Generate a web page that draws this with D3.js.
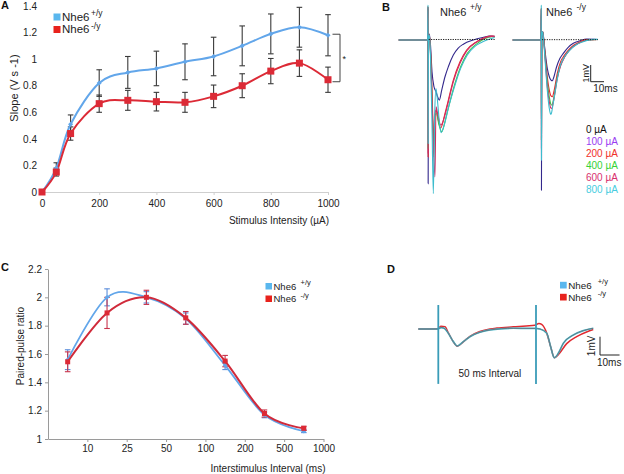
<!DOCTYPE html>
<html><head><meta charset="utf-8">
<script src="https://cdn.jsdelivr.net/npm/d3@7"></script>
<style>
body{margin:0;background:#fff;}
svg{display:block;font-family:"Liberation Sans",Arial,Helvetica,sans-serif;}
</style></head><body>
<svg id="c" width="624" height="474"></svg>
<script>
// ---------- Panel A : input-output ----------
const intensities = [0,50,100,200,300,400,500,600,700,800,900,1000];
const slopeWT    = [0,0.18,0.51,0.82,0.90,0.93,0.98,1.02,1.10,1.19,1.24,1.18];
const slopeWTErr = [0,0.04,0.07,0.10,0.12,0.13,0.135,0.145,0.15,0.15,0.15,0.155];
const slopeKO    = [0,0.15,0.44,0.665,0.69,0.68,0.675,0.72,0.80,0.91,0.97,0.845];
const slopeKOErr = [0,0.03,0.05,0.065,0.075,0.07,0.075,0.085,0.09,0.095,0.10,0.095];
const slopeXTicks = [0,200,400,600,800,1000];
const slopeYTicks = [0,0.2,0.4,0.6,0.8,1,1.2,1.4];

// ---------- Panel C : paired-pulse ----------
const ppIntervalLabels = ["10","25","50","100","200","500","1000"];
const ppWT    = [1.56,2.0,2.0,1.85,1.52,1.17,1.055];
const ppWTErr = [0.07,0.06,0.04,0.04,0.03,0.02,0.01];
const ppKO    = [1.545,1.89,2.0,1.855,1.55,1.18,1.075];
const ppKOErr = [0.07,0.11,0.05,0.045,0.04,0.025,0.015];
const ppYTicks = [1,1.2,1.4,1.6,1.8,2,2.2];

// ---------- Panel B : fEPSP traces [ms, mV] ----------
const stimLabels = ["0 µA","100 µA","200 µA","400 µA","600 µA","800 µA"];
const wt0   = [[0.5,0.03],[50,0.03]];
const wt100 = [[-22,0],[-0.3,0],[0,1.9],[0.12,-8.6],[0.35,0.1],[1.0,0.35],[1.8,-0.2],[3.0,-1.9],[4.5,-2.8],[6.0,-3.1],[7.2,-3.4],[8.5,-3.6],[10.3,-3.0],[12.75,-2.2],[15.25,-1.6],[19,-0.9],[22.5,-0.5],[26.5,-0.25],[34,0.0],[41,0.15],[46.5,0.24],[50,0.22]];
const wt200 = [[-22,0],[-0.3,0],[0,2.0],[0.12,-7.0],[0.35,0.1],[1.0,0.3],[1.8,-0.5],[3.2,-3.5],[4.2,-6.2],[5.0,-4.6],[6.0,-4.2],[7.5,-4.7],[9.5,-5.27],[12.75,-4.4],[15.25,-3.6],[19,-2.4],[24,-1.3],[29,-0.6],[36.5,-0.1],[47.8,0.24],[50,0.22]];
const wt400 = [[-22,0],[-0.3,0],[0,2.0],[0.12,-6.5],[0.35,0.1],[1.0,0.3],[1.8,-0.6],[3.2,-4.0],[4.3,-7.0],[5.2,-4.5],[6.3,-4.4],[8,-5.0],[10.3,-5.49],[13,-4.8],[15.5,-4.0],[19.5,-2.8],[24.5,-1.6],[29.5,-0.8],[37,-0.2],[48,0.2],[50,0.18]];
const wt600 = [[-22,0],[-0.3,0],[0,2.0],[0.12,-6.8],[0.35,0.1],[1.0,0.3],[1.8,-0.7],[3.4,-4.5],[5.2,-8.2],[6.0,-4.0],[7.2,-4.4],[9.6,-5.1],[12.75,-4.5],[15.25,-3.7],[19,-2.5],[24,-1.4],[29,-0.65],[36.5,-0.12],[48,0.22],[50,0.2]];
const wt800 = [[-22,0],[-0.3,0],[0,2.1],[0.12,-6.2],[0.35,0.1],[1.0,0.3],[1.8,-0.8],[3.0,-5.0],[4.0,-9.2],[5.0,-4.5],[6.0,-2.9],[7.3,-3.8],[8.5,-4.9],[9.8,-5.55],[12.5,-5.0],[15.2,-4.1],[19.5,-2.9],[24.5,-1.7],[29.5,-0.9],[35,-0.4],[40,-0.15],[50,0.15]];
const ko0   = [[0.5,0.02],[42.5,0.02]];
const ko100 = [[-21.5,0],[-0.3,0],[0,1.8],[0.12,-9.0],[0.35,0.2],[1.0,0.5],[1.8,0.1],[3,-0.8],[4.5,-1.7],[6,-2.2],[7.3,-2.4],[8.25,-2.44],[9.5,-2.2],[11.5,-1.6],[14,-1.1],[16.5,-0.8],[20,-0.45],[24,-0.2],[29,-0.05],[34,0.05],[42.5,0.03]];
const ko200 = [[-21.5,0],[-0.3,0],[0,1.9],[0.12,-6.0],[0.35,0.2],[1.0,0.5],[1.8,0.05],[3,-1.0],[4.5,-2.2],[6,-3.0],[7.3,-3.35],[8.25,-3.4],[9.7,-3.0],[12,-2.0],[14.5,-1.3],[17,-0.95],[21,-0.55],[24.5,-0.3],[29,-0.1],[34,0.02],[42.5,0.03]];
const ko400 = [[-21.5,0],[-0.3,0],[0,1.9],[0.12,-6.0],[0.35,0.2],[1.0,0.5],[1.8,0.0],[3,-1.1],[4.5,-2.5],[6,-3.4],[7.2,-3.85],[8,-3.9],[9.5,-3.4],[12,-2.2],[14.5,-1.5],[17.5,-1.0],[21,-0.6],[25,-0.32],[30,-0.12],[35,0.0],[42.5,0.03]];
const ko600 = [[-21.5,0],[-0.3,0],[0,1.9],[0.12,-6.5],[0.35,0.2],[1.0,0.5],[1.8,0.0],[3,-1.2],[4.5,-2.8],[6,-3.7],[7,-4.05],[7.8,-4.1],[9.3,-3.6],[12,-2.3],[14.5,-1.55],[17.5,-1.02],[21,-0.62],[25,-0.33],[30,-0.12],[35,0.0],[42.5,0.03]];
const ko800 = [[-21.5,0],[-0.3,0],[0,2.1],[0.12,-7.2],[0.35,0.2],[1.0,0.5],[1.8,-0.1],[3,-1.4],[4.5,-3.0],[6,-4.1],[6.8,-4.4],[7.3,-4.45],[8.5,-4.0],[10.2,-3.2],[12,-2.35],[14,-1.6],[17.5,-1.0],[21.5,-0.6],[26,-0.3],[31.5,-0.1],[39,0.04],[42.5,0.04]];

// ---------- Panel D : paired-pulse traces [ms, mV] ----------
const ppArtifactTimes = [0,50];
const ppTraceWT = [[-10.2,0],[-0.3,0],[1.4,0.08],[2.9,0.05],[5.1,-0.23],[7.7,-0.69],[9.7,-0.93],[12.8,-0.69],[16.2,-0.42],[21.3,-0.18],[26.5,-0.05],[38.4,0.04],[49.6,0.03],[52,0],[55.5,-0.23],[57.5,-0.97],[59.4,-1.57],[61.4,-1.33],[64,-0.78],[69.1,-0.33],[74.2,-0.09],[79.3,0.04]];
const ppTraceKO = [[-10.2,0],[-0.3,0.02],[1.4,0.15],[3.4,0.13],[5.1,-0.2],[7.7,-0.7],[9.7,-0.94],[12.8,-0.7],[16.2,-0.4],[21.3,-0.14],[26.5,0.0],[30,0.05],[38.4,0.12],[45,0.17],[49.4,0.2],[51.5,0.3],[52.9,0.25],[55.5,-0.23],[57.5,-0.97],[59.4,-1.57],[61.4,-1.4],[65.7,-0.8],[70.8,-0.42],[76.8,-0.12],[79.3,-0.03]];

// ================= drawing =================
const svg = d3.select("#c");
const BLUE = "#62a6ea", BLUE_LEG = "#5ab7ee", RED = "#dc2a36", RED_LEG = "#e8221c";

function txt(x, y, s, size, opts = {}) {
  const t = svg.append("text").attr("x", x).attr("y", y).text(s)
    .attr("font-size", size).attr("fill", opts.fill || "#222");
  if (opts.anchor) t.attr("text-anchor", opts.anchor);
  if (opts.weight) t.attr("font-weight", opts.weight);
  if (opts.rotate) t.attr("transform", `rotate(-90,${x},${y})`);
  return t;
}
function legendEntry(x, y, sq, color, sup, fs, sfs, supDx, supDy) {
  svg.append("rect").attr("x", x).attr("y", y - sq).attr("width", sq).attr("height", sq).attr("fill", color);
  txt(x + sq + 1.5, y, "Nhe6", fs);
  txt(x + sq + 1.5 + supDx, y - supDy, sup, sfs);
}

// Panel letters
txt(1, 9, "A", 11, {weight: "bold", fill: "#111"});
txt(382, 10.5, "B", 11, {weight: "bold", fill: "#111"});
txt(1, 271, "C", 11, {weight: "bold", fill: "#111"});
txt(387, 273, "D", 11, {weight: "bold", fill: "#111"});

// ---------- A ----------
const xA = d3.scaleLinear().domain([0, 1000]).range([42, 328]);
const yA = d3.scaleLinear().domain([0, 1.4]).range([192, 6]);
const gxA = svg.append("g").attr("transform", "translate(0,192)")
  .call(d3.axisBottom(xA).tickValues(slopeXTicks).tickSize(3).tickSizeOuter(0).tickPadding(4.5).tickFormat(d3.format("d")));
gxA.select(".domain").attr("stroke", "#cfcfcf");
gxA.selectAll(".tick line").attr("stroke", "#cfcfcf");
gxA.selectAll("text").attr("font-size", 10).attr("fill", "#222").attr("font-family", null);
const gyA = svg.append("g").attr("transform", "translate(42,0)")
  .call(d3.axisLeft(yA).tickValues(slopeYTicks).tickSize(0).tickPadding(5).tickFormat(d3.format("~g")));
gyA.select(".domain").remove();
gyA.selectAll("text").attr("font-size", 10).attr("fill", "#222").attr("font-family", null);
txt(279, 223.5, "Stimulus Intensity (µA)", 10, {anchor: "middle"});
txt(18, 88, "Slope (V s -1)", 11, {anchor: "middle", rotate: true});

function errBars(g, xs, ys, xv, yv, ev, color, cap, w) {
  xv.forEach((xx, i) => {
    if (!ev[i]) return;
    const X = xs(xx), y1 = ys(yv[i] + ev[i]), y2 = ys(yv[i] - ev[i]);
    g.append("line").attr("x1", X).attr("x2", X).attr("y1", y1).attr("y2", y2).attr("stroke", color).attr("stroke-width", w);
    g.append("line").attr("x1", X - cap).attr("x2", X + cap).attr("y1", y1).attr("y2", y1).attr("stroke", color).attr("stroke-width", w);
    g.append("line").attr("x1", X - cap).attr("x2", X + cap).attr("y1", y2).attr("y2", y2).attr("stroke", color).attr("stroke-width", w);
  });
}
const gA = svg.append("g");
errBars(gA, xA, yA, intensities, slopeWT, slopeWTErr, "#3a3a3a", 2.8, 1.1);
errBars(gA, xA, yA, intensities, slopeKO, slopeKOErr, "#3a3a3a", 2.8, 1.1);
const lineA = vals => d3.line().x((d, i) => xA(intensities[i])).y(d => yA(d)).curve(d3.curveCatmullRom.alpha(0))(vals);
gA.append("path").attr("d", lineA(slopeWT)).attr("fill", "none").attr("stroke", BLUE).attr("stroke-width", 2);
gA.append("path").attr("d", lineA(slopeKO)).attr("fill", "none").attr("stroke", RED).attr("stroke-width", 2);
gA.selectAll(".dwt").data(slopeWT).enter().append("rect")
  .attr("width", 3.6).attr("height", 3.6).attr("x", -1.8).attr("y", -1.8)
  .attr("transform", (d, i) => `translate(${xA(intensities[i])},${yA(d)}) rotate(45)`).attr("fill", BLUE);
gA.selectAll(".dko").data(slopeKO).enter().append("rect")
  .attr("width", 7).attr("height", 7)
  .attr("x", (d, i) => xA(intensities[i]) - 3.5).attr("y", d => yA(d) - 3.5).attr("fill", RED);
// significance bracket
{
  const last = intensities.length - 1;
  const bx0 = xA(intensities[last]) + 4.5, bx1 = xA(intensities[last]) + 12;
  const by0 = yA(slopeWT[last]) - 1, by1 = yA(slopeKO[last]) + 2;
  svg.append("path").attr("d", `M${bx0},${by0}H${bx1}V${by1}H${bx0}`).attr("fill", "none").attr("stroke", "#444").attr("stroke-width", 1);
  txt(bx1 + 2.5, (by0 + by1) / 2 + 4, "*", 9);
}
legendEntry(53.5, 20.5, 7, BLUE_LEG, "+/y", 11.5, 8.5, 29, 4.5);
legendEntry(53.5, 33, 7, RED_LEG, "-/y", 11.5, 8.5, 29, 4);

// ---------- C ----------
const xC = d3.scaleLinear().domain([0, 7]).range([48, 323.5]);
const yC = d3.scaleLinear().domain([1, 2.2]).range([439, 269]);
const gxC = svg.append("g").attr("transform", "translate(0,439)")
  .call(d3.axisBottom(xC).tickValues(d3.range(1, ppIntervalLabels.length + 1)).tickSize(3).tickSizeOuter(0).tickPadding(3)
    .tickFormat(i => ppIntervalLabels[i - 1]));
gxC.select(".domain").attr("stroke", "#9a9a9a");
gxC.selectAll(".tick line").attr("stroke", "#9a9a9a");
gxC.selectAll("text").attr("font-size", 10).attr("fill", "#222").attr("font-family", null);
const gyC = svg.append("g").attr("transform", "translate(48,0)")
  .call(d3.axisLeft(yC).tickValues(ppYTicks).tickSize(3).tickSizeOuter(0).tickPadding(3).tickFormat(d3.format("~g")));
gyC.select(".domain").attr("stroke", "#9a9a9a");
gyC.selectAll(".tick line").attr("stroke", "#9a9a9a");
gyC.selectAll("text").attr("font-size", 10).attr("fill", "#222").attr("font-family", null);
txt(268, 472, "Interstimulus Interval (ms)", 10, {anchor: "middle"});
txt(24, 346, "Paired-pulse ratio", 10, {anchor: "middle", rotate: true});

const ppX = ppWT.map((d, i) => i + 0.5);
const gC = svg.append("g");
errBars(gC, xC, yC, ppX, ppWT, ppWTErr, "#5a8ddb", 2.8, 1.1);
errBars(gC, xC, yC, ppX, ppKO, ppKOErr, "#c8344c", 2.8, 1.1);
const lineC = vals => d3.line().x((d, i) => xC(ppX[i])).y(d => yC(d)).curve(d3.curveCatmullRom.alpha(0))(vals);
gC.append("path").attr("d", lineC(ppWT)).attr("fill", "none").attr("stroke", BLUE).attr("stroke-width", 1.8);
gC.selectAll(".cwt").data(ppWT).enter().append("rect")
  .attr("width", 3.4).attr("height", 3.4).attr("x", -1.7).attr("y", -1.7)
  .attr("transform", (d, i) => `translate(${xC(ppX[i])},${yC(d)}) rotate(45)`).attr("fill", BLUE);
gC.append("path").attr("d", lineC(ppKO)).attr("fill", "none").attr("stroke", "#d02a3a").attr("stroke-width", 2);
gC.selectAll(".cko").data(ppKO).enter().append("rect")
  .attr("width", 5).attr("height", 5)
  .attr("x", (d, i) => xC(ppX[i]) - 2.5).attr("y", d => yC(d) - 2.5).attr("fill", RED);
legendEntry(265.5, 289.5, 6.5, BLUE_LEG, "+/y", 9.5, 7.5, 27, 4.5);
legendEntry(265.5, 302, 6.5, RED_LEG, "-/y", 9.5, 7.5, 27, 4.5);

// ---------- B ----------
const traceColors = ["#1a1a1a", "#33288c", "#e8262e", "#3cc44a", "#cf2d66", "#3cbccd"];
const stimTextColors = ["#111111", "#9a3cf2", "#f0302a", "#36d236", "#d8306e", "#48cde0"];
const yB = d3.scaleLinear().domain([0, 1]).range([40, 23.3]);
const xBL = d3.scaleLinear().domain([0, 10]).range([428, 441.33]);
const xBR = d3.scaleLinear().domain([0, 10]).range([541.3, 554.63]);
function drawTraces(traces, xs, ys) {
  const ln = d3.line().x(d => xs(d[0])).y(d => ys(d[1])).curve(d3.curveMonotoneX);
  traces.forEach((tr, i) => {
    if (i === 0) return;
    svg.append("path").attr("d", ln(tr)).attr("fill", "none").attr("stroke", traceColors[i]).attr("stroke-width", 1.1);
  });
  svg.append("path").attr("d", ln(traces[0])).attr("fill", "none").attr("stroke", traceColors[0])
    .attr("stroke-width", 1).attr("stroke-dasharray", "1.2,1.2");
}
drawTraces([wt0, wt100, wt200, wt400, wt600, wt800], xBL, yB);
drawTraces([ko0, ko100, ko200, ko400, ko600, ko800], xBR, yB);
txt(440, 15.5, "Nhe6", 11);
txt(470, 10, "+/y", 8.5);
txt(546, 15.5, "Nhe6", 11);
txt(576.5, 10, "-/y", 8.5);
// scale bar B
{
  const sx = 590.7, sy = 81.7;
  const h = yB(0) - yB(1), w = xBL(10) - xBL(0);
  svg.append("path").attr("d", `M${sx},${sy - h}V${sy}H${sx + w}`).attr("fill", "none").attr("stroke", "#222").attr("stroke-width", 1);
  txt(sx - 1.5, sy - h / 2, "1mV", 9, {anchor: "middle", rotate: true});
  txt(sx + 2.5, sy + 10.5, "10ms", 10);
}
stimLabels.forEach((s, i) => txt(586, 132.5 + 12 * i, s, 10, {fill: stimTextColors[i]}));

// ---------- D ----------
const xD = d3.scaleLinear().domain([0, 50]).range([438.3, 536]);
const yD = d3.scaleLinear().domain([0, 1]).range([329, 310.7]);
{
  const ln = d3.line().x(d => xD(d[0])).y(d => yD(d[1])).curve(d3.curveMonotoneX);
  svg.append("path").attr("d", ln(ppTraceKO)).attr("fill", "none").attr("stroke", "#e02a30").attr("stroke-width", 1.5);
  svg.append("path").attr("d", ln(ppTraceWT)).attr("fill", "none").attr("stroke", "#45bccd").attr("stroke-width", 1.7);
  svg.append("path").attr("d", ln(ppTraceWT)).attr("fill", "none").attr("stroke", "#66707c").attr("stroke-width", 0.9);
  ppArtifactTimes.forEach(t => {
    svg.append("line").attr("x1", xD(t)).attr("x2", xD(t)).attr("y1", yD(1.31)).attr("y2", yD(-3.0))
      .attr("stroke", "#3a9cb8").attr("stroke-width", 1.8);
  });
  const sx = 600, sy = 355;
  const h = yD(0) - yD(1), w = xD(10) - xD(0);
  svg.append("path").attr("d", `M${sx},${sy - h}V${sy}H${sx + w}`).attr("fill", "none").attr("stroke", "#222").attr("stroke-width", 1);
  txt(sx - 5, sy - h / 2, "1mV", 10, {anchor: "middle", rotate: true});
  txt(sx - 3, sy + 11, "10ms", 10);
  txt(458.5, 376.5, "50 ms Interval", 10);
}
legendEntry(560, 288.5, 6.7, BLUE_LEG, "+/y", 9.8, 7.5, 29.5, 4.5);
legendEntry(560, 300.5, 6.7, RED_LEG, "-/y", 9.8, 7.5, 29.5, 5);
</script>
</body></html>
